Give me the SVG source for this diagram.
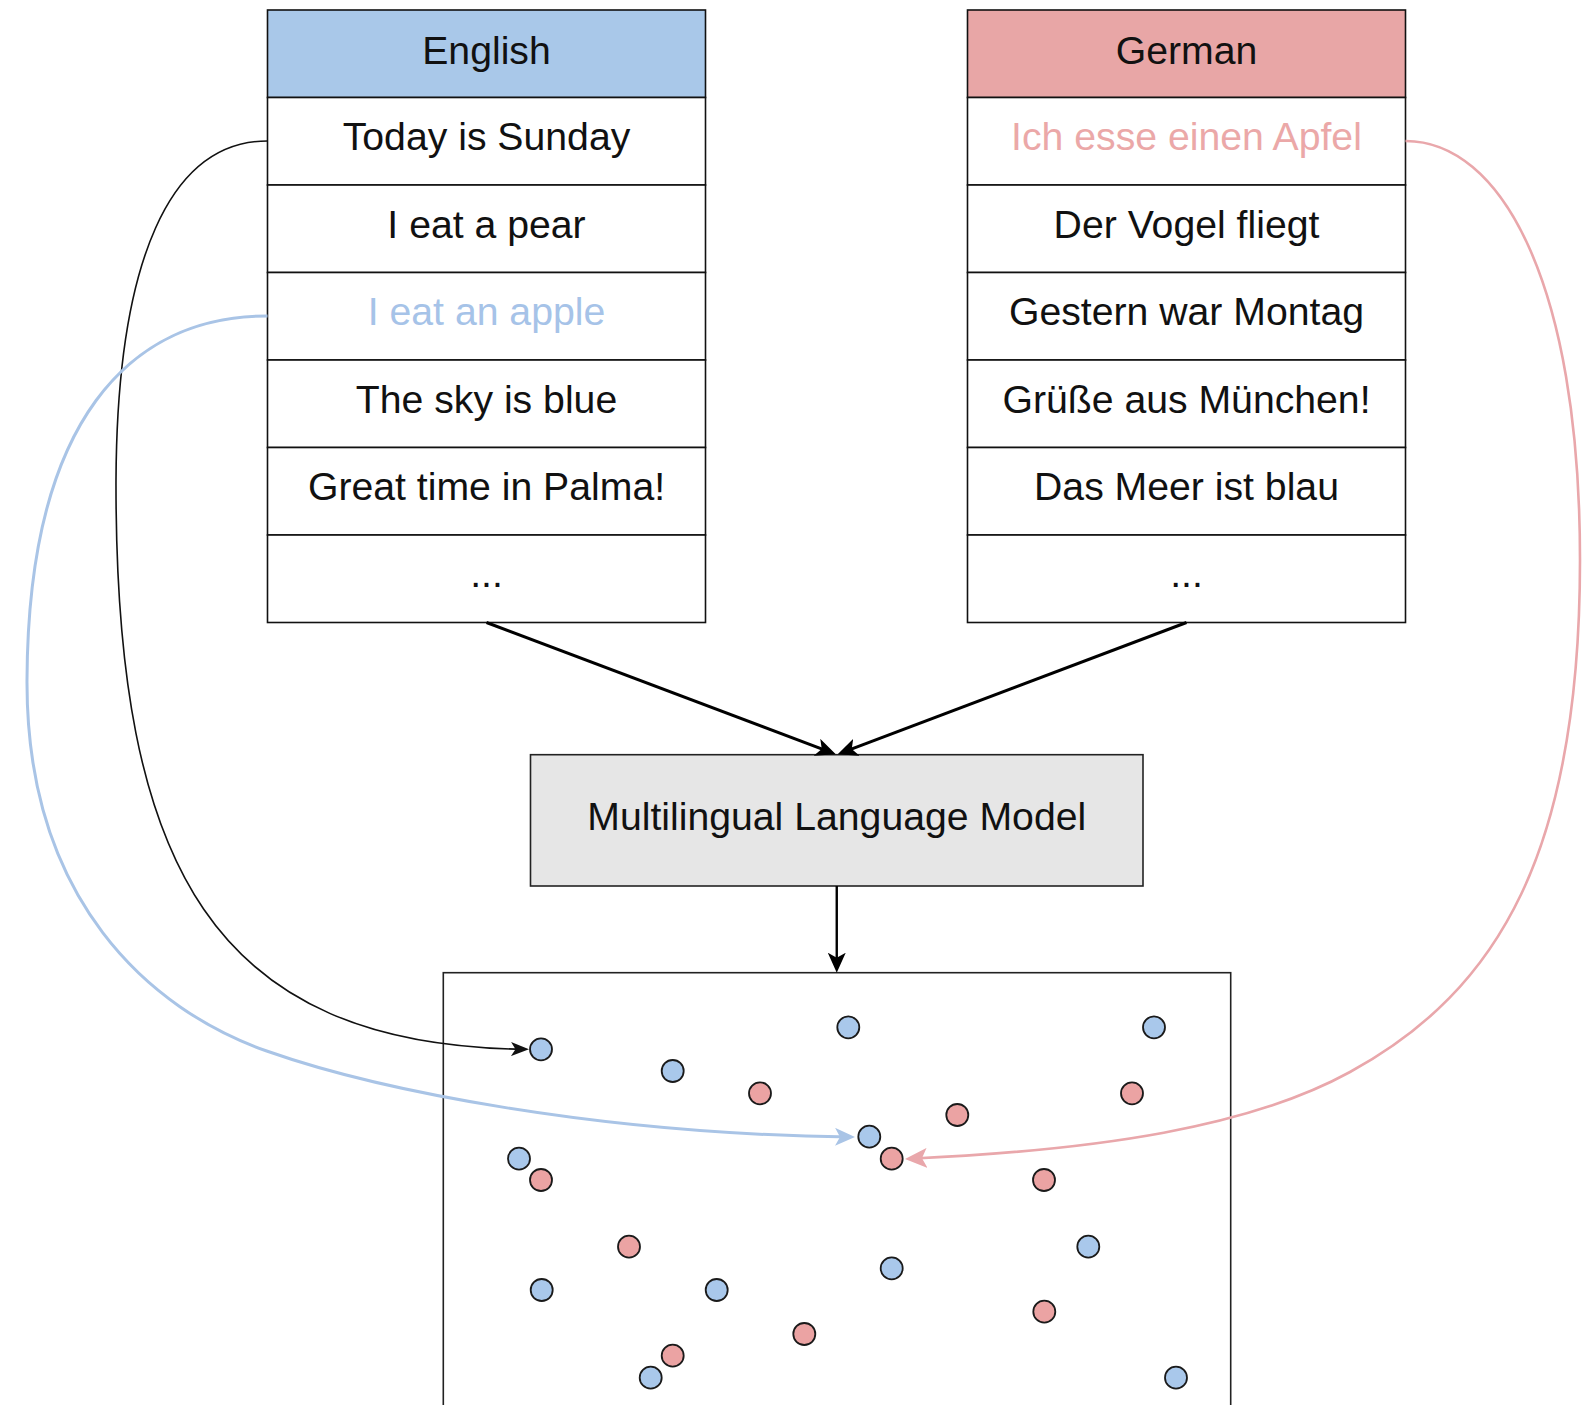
<svg xmlns="http://www.w3.org/2000/svg" width="1582" height="1405" viewBox="0 0 1582 1405">
<style>
.cell{fill:#ffffff;stroke:#111;stroke-width:1.6}
.hdrEn{fill:#A9C8E9;stroke:#111;stroke-width:1.6}
.hdrDe{fill:#E8A6A6;stroke:#111;stroke-width:1.6}
.t{font-family:"Liberation Sans",Arial,Helvetica,sans-serif;font-size:39.2px;fill:#111;text-anchor:middle}
.hlBlue{fill:#A6C3E8}
.hlPink{fill:#EBA8A8}
.model{fill:#E6E6E6;stroke:#222;stroke-width:1.6}
.space{fill:#ffffff;stroke:#222;stroke-width:1.6}
.db{fill:#A9C8EB;stroke:#1a1a1a;stroke-width:1.8}
.dr{fill:#EBA3A3;stroke:#1a1a1a;stroke-width:1.8}
.main{fill:none;stroke:#000;stroke-width:3}
.cb{fill:none;stroke:#111;stroke-width:1.6}
.cblue{fill:none;stroke:#A9C4E6;stroke-width:3}
.cpink{fill:none;stroke:#E9A7AB;stroke-width:2.6}
</style>
<defs>
<marker id="amain" viewBox="0 0 20 18" markerWidth="20" markerHeight="18" refX="14" refY="9" orient="auto" markerUnits="userSpaceOnUse"><path d="M20,9 L0,0 L5,9 L0,18 Z" fill="#000"/></marker>
<marker id="ablack" viewBox="0 0 18 14" markerWidth="18" markerHeight="14" refX="13" refY="7" orient="auto" markerUnits="userSpaceOnUse"><path d="M18,7 L0,0 L4.5,7 L0,14 Z" fill="#111"/></marker>
<marker id="ablue" viewBox="0 0 20 18" markerWidth="20" markerHeight="18" refX="15" refY="9" orient="auto" markerUnits="userSpaceOnUse"><path d="M20,9 L0,0 L5,9 L0,18 Z" fill="#A9C4E6"/></marker>
<marker id="apink" viewBox="0 0 22 20" markerWidth="22" markerHeight="20" refX="17" refY="10" orient="auto" markerUnits="userSpaceOnUse"><path d="M22,10 L0,0 L5,10 L0,20 Z" fill="#E9A7AB"/></marker>
</defs>
<rect width="1582" height="1405" fill="#ffffff"/>

<g id="english">
<rect class="hdrEn" x="267.5" y="10" width="438" height="87.5"/>
<rect class="cell" x="267.5" y="97.5" width="438" height="87.5"/>
<rect class="cell" x="267.5" y="185" width="438" height="87.5"/>
<rect class="cell" x="267.5" y="272.5" width="438" height="87.5"/>
<rect class="cell" x="267.5" y="360" width="438" height="87.5"/>
<rect class="cell" x="267.5" y="447.5" width="438" height="87.5"/>
<rect class="cell" x="267.5" y="535" width="438" height="87.5"/>
<text class="t" x="486.5" y="63.5">English</text>
<text class="t" x="486.5" y="150">Today is Sunday</text>
<text class="t" x="486.5" y="237.5">I eat a pear</text>
<text class="t hlBlue" x="486.5" y="325">I eat an apple</text>
<text class="t" x="486.5" y="412.5">The sky is blue</text>
<text class="t" x="486.5" y="500">Great time in Palma!</text>
<text class="t" x="486.5" y="587">...</text>
</g>

<g id="german">
<rect class="hdrDe" x="967.5" y="10" width="438" height="87.5"/>
<rect class="cell" x="967.5" y="97.5" width="438" height="87.5"/>
<rect class="cell" x="967.5" y="185" width="438" height="87.5"/>
<rect class="cell" x="967.5" y="272.5" width="438" height="87.5"/>
<rect class="cell" x="967.5" y="360" width="438" height="87.5"/>
<rect class="cell" x="967.5" y="447.5" width="438" height="87.5"/>
<rect class="cell" x="967.5" y="535" width="438" height="87.5"/>
<text class="t" x="1186.5" y="63.5">German</text>
<text class="t hlPink" x="1186.5" y="150">Ich esse einen Apfel</text>
<text class="t" x="1186.5" y="237.5">Der Vogel fliegt</text>
<text class="t" x="1186.5" y="325">Gestern war Montag</text>
<text class="t" x="1186.5" y="412.5">Grüße aus München!</text>
<text class="t" x="1186.5" y="500">Das Meer ist blau</text>
<text class="t" x="1186.5" y="587">...</text>
</g>

<g id="model">
<rect class="model" x="530.5" y="754.7" width="612.5" height="131.3"/>
<text class="t" x="836.75" y="829.5">Multilingual Language Model</text>
</g>

<g id="embedding-space">
<rect class="space" x="443.3" y="972.7" width="787.4" height="500"/>
<circle class="db" cx="541" cy="1049.3" r="11"/>
<circle class="db" cx="672.7" cy="1071" r="11"/>
<circle class="db" cx="848.3" cy="1027.3" r="11"/>
<circle class="db" cx="1154" cy="1027.3" r="11"/>
<circle class="db" cx="869.3" cy="1136.7" r="11"/>
<circle class="db" cx="519" cy="1158.7" r="11"/>
<circle class="db" cx="1088.3" cy="1246.7" r="11"/>
<circle class="db" cx="891.7" cy="1268.3" r="11"/>
<circle class="db" cx="541.7" cy="1290" r="11"/>
<circle class="db" cx="716.7" cy="1290" r="11"/>
<circle class="db" cx="650.7" cy="1377.7" r="11"/>
<circle class="db" cx="1176" cy="1377.7" r="11"/>
<circle class="dr" cx="760" cy="1093.3" r="11"/>
<circle class="dr" cx="957.3" cy="1115" r="11"/>
<circle class="dr" cx="1132" cy="1093.3" r="11"/>
<circle class="dr" cx="891.7" cy="1158.7" r="11"/>
<circle class="dr" cx="541" cy="1180" r="11"/>
<circle class="dr" cx="1044" cy="1180" r="11"/>
<circle class="dr" cx="629" cy="1246.7" r="11"/>
<circle class="dr" cx="1044.3" cy="1311.7" r="11"/>
<circle class="dr" cx="804.3" cy="1334" r="11"/>
<circle class="dr" cx="672.7" cy="1355.7" r="11"/>
</g>

<g id="connectors">
<line class="main" x1="486.5" y1="622.5" x2="830.2" y2="752.2" marker-end="url(#amain)"/>
<line class="main" x1="1186.5" y1="622.5" x2="843.3" y2="752.2" marker-end="url(#amain)"/>
<line class="main" style="stroke-width:2.4" x1="836.75" y1="886" x2="836.75" y2="966.7" marker-end="url(#amain)"/>
<path class="cb" d="M267.5,141 C170,141 117,260 116,480 C115,870 215,1045 524,1049.3" marker-end="url(#ablack)"/>
<path class="cblue" d="M267.5,316 C130,316 28,420 27,680 C26,900 150,1010 266.7,1051 C380,1091 600,1134 850,1137" marker-end="url(#ablue)"/>
<path class="cpink" d="M1405.5,141 C1500,141 1580,280 1580,560 C1580,850 1500,990 1350,1072 C1250,1127 1100,1150 910,1158.7" marker-end="url(#apink)"/>
</g>
</svg>
